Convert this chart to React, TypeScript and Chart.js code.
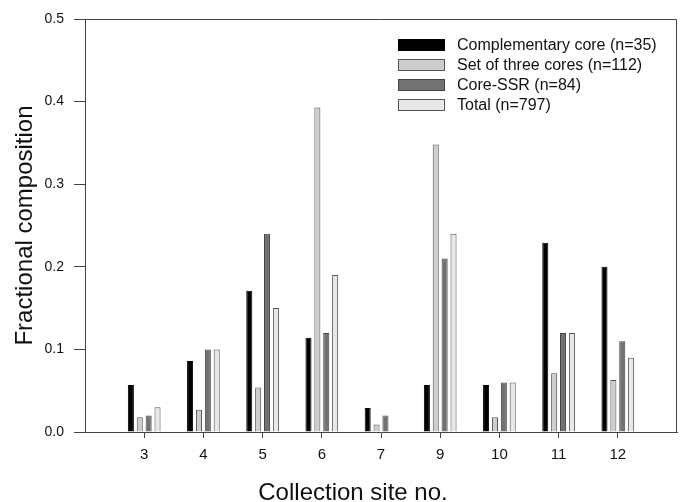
import React, { useEffect, useRef } from "react";
import { Chart, registerables } from "chart.js";

Chart.register(...registerables);

const sites = ["", "3", "4", "5", "6", "7", "9", "10", "11", "12", ""];
const complementaryCore = [null, 0.057, 0.086, 0.171, 0.114, 0.029, 0.057, 0.057, 0.229, 0.2, null];
const setOfThreeCores = [null, 0.018, 0.027, 0.054, 0.393, 0.009, 0.348, 0.018, 0.071, 0.063, null];
const coreSSR = [null, 0.02, 0.1, 0.24, 0.12, 0.02, 0.21, 0.06, 0.12, 0.11, null];
const totalSet = [null, 0.03, 0.1, 0.15, 0.19, null, 0.24, 0.06, 0.12, 0.09, null];
const yTicks = [0, 0.1, 0.2, 0.3, 0.4, 0.5];
const xTitle = "Collection site no.";
const yTitle = "Fractional composition";

const FONT = "Arial, 'Liberation Sans', sans-serif";

const frameAndLegend = {
  id: "frameAndLegend",
  afterDraw(chart: any) {
    const { ctx, chartArea } = chart;
    ctx.save();
    ctx.strokeStyle = "#444";
    ctx.lineWidth = 1;
    ctx.beginPath();
    ctx.moveTo(chartArea.left, chartArea.top + 0.5);
    ctx.lineTo(chartArea.right - 0.5, chartArea.top + 0.5);
    ctx.lineTo(chartArea.right - 0.5, chartArea.bottom);
    ctx.stroke();

    // x axis title (off-centre as in the original)
    ctx.font = "24px " + FONT;
    ctx.fillStyle = "#111";
    ctx.textAlign = "center";
    ctx.textBaseline = "alphabetic";
    ctx.fillText(xTitle, 353, 500);

    // legend inside plot
    const boxX = 398;
    const boxW = 47;
    const boxH = 12;
    const startY = 45;
    const step = 20;
    ctx.font = "16px " + FONT;
    ctx.textBaseline = "middle";
    ctx.textAlign = "left";
    chart.data.datasets.forEach((ds: any, i: number) => {
      const cy = startY + i * step;
      ctx.fillStyle = ds.backgroundColor;
      ctx.fillRect(boxX, cy - boxH / 2, boxW, boxH);
      ctx.strokeStyle = ds.borderColor;
      ctx.lineWidth = 1;
      ctx.strokeRect(boxX + 0.5, cy - boxH / 2 + 0.5, boxW - 1, boxH - 1);
      ctx.fillStyle = "#111";
      ctx.fillText(ds.label, boxX + boxW + 12, cy + 1);
    });
    ctx.restore();
  },
};

export default function App() {
  const ref = useRef<HTMLCanvasElement>(null);
  useEffect(() => {
    const hideEnds = (c: any) =>
      c.index === 0 || c.index === sites.length - 1 ? "rgba(0,0,0,0)" : "#444";
    const chart = new Chart(ref.current as HTMLCanvasElement, {
      type: "bar",
      data: {
        labels: sites,
        datasets: [
          { label: "Complementary core (n=35)", data: complementaryCore, backgroundColor: "#000000", borderColor: "#000000", borderWidth: 1 },
          { label: "Set of three cores (n=112)", data: setOfThreeCores, backgroundColor: "#cdcdcd", borderColor: "#555555", borderWidth: 1 },
          { label: "Core-SSR (n=84)", data: coreSSR, backgroundColor: "#727272", borderColor: "#444444", borderWidth: 1 },
          { label: "Total (n=797)", data: totalSet, backgroundColor: "#e8e8e8", borderColor: "#555555", borderWidth: 1 },
        ] as any,
      },
      options: {
        animation: false,
        responsive: false,
        maintainAspectRatio: false,
        layout: { autoPadding: false, padding: { left: 0, right: 3, top: 19, bottom: 0 } } as any,
        datasets: { bar: { categoryPercentage: 0.6, barPercentage: 0.68 } } as any,
        plugins: { legend: { display: false }, tooltip: { enabled: false } },
        scales: {
          x: {
            type: "category",
            offset: false,
            grid: { offset: false, drawOnChartArea: false, tickLength: 6, color: hideEnds, tickColor: hideEnds } as any,
            border: { color: "#444", width: 1 },
            ticks: { color: "#111", font: { size: 15, family: FONT }, padding: 8, autoSkip: false, maxRotation: 0 },
            title: { display: false, text: xTitle },
            afterFit: (axis: any) => { axis.height = 70; axis.paddingLeft = 0; axis.paddingRight = 0; },
          } as any,
          y: {
            min: 0,
            max: 0.5,
            afterBuildTicks: (axis: any) => { axis.ticks = yTicks.map((v) => ({ value: v })); },
            grid: { drawOnChartArea: false, tickLength: 11, tickColor: "#444" },
            border: { color: "#444", width: 1 },
            ticks: { color: "#111", font: { size: 14, family: FONT }, padding: 10, callback: (v: any) => Number(v).toFixed(1) },
            title: {
              display: true,
              text: yTitle,
              color: "#111",
              font: { size: 24, family: FONT, lineHeight: 1.2 },
              padding: { top: 11, bottom: 0 },
            },
            afterFit: (axis: any) => { axis.width = 85; axis.paddingTop = 0; axis.paddingBottom = 0; },
          } as any,
        },
      },
      plugins: [frameAndLegend],
    });
    return () => chart.destroy();
  }, []);
  return (
    <div style={{ position: "fixed", left: 0, top: 0, width: 680, height: 502, background: "#fff" }}>
      <canvas ref={ref} width={680} height={502} style={{ width: 680, height: 502, display: "block" }} />
    </div>
  );
}
